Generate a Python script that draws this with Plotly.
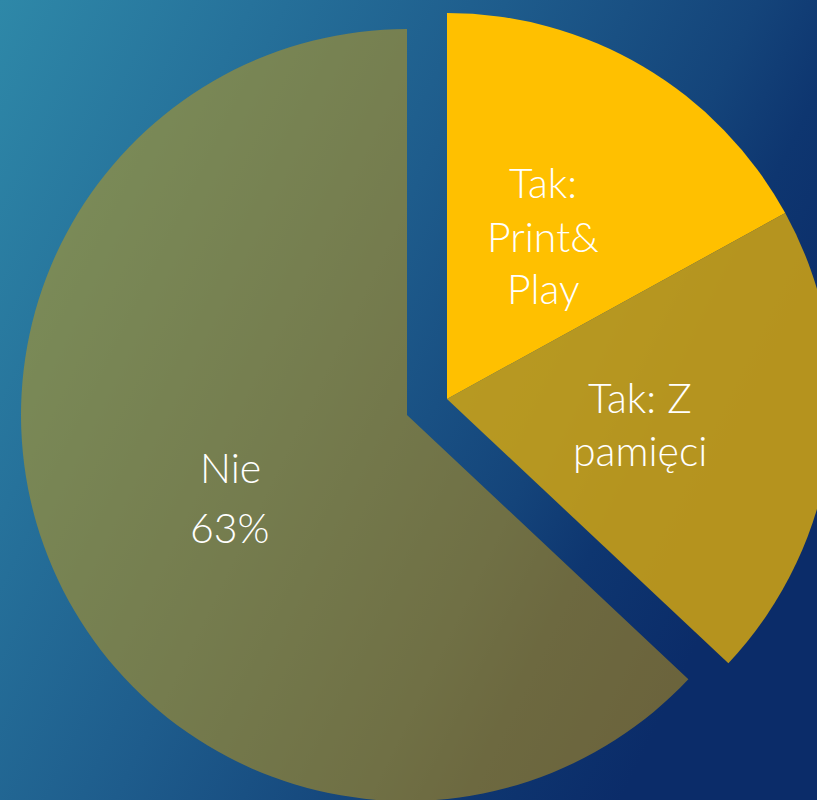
import base64
import plotly.graph_objects as go

# ---- data ----
labels = ["Tak: Print& Play", "Tak: Z pamięci", "Nie"]
values = [17, 20, 63]
label_lines = [["Tak:", "Print&", "Play"],
               ["Tak: Z", "pamięci"],
               ["Nie", f"{values[2] / sum(values):.0%}"]]

# ---- layout constants (pixels) ----
W, H = 840, 810
R = 386
NIE_C = (407, 415)     # centre of the exploded "Nie" slice
TAK_C = (447, 399)     # centre of the "Tak" slices
TEXT_X = [543, 640, 230]
TEXT_Y0 = [183, 397, 468]
TEXT_DY = [53, 53, 59]

def dom(c):
    cx, cy = c
    return dict(x=[(cx - R) / W, (cx + R) / W],
                y=[1 - (cy + R) / H, 1 - (cy - R) / H])

clear = "rgba(0,0,0,0)"
nie_colors = [clear, clear, "rgba(204,156,16,0.5)"]
tak_colors = ["#FFC000", "rgba(218,170,14,0.82)", clear]

fig = go.Figure()
fig.add_trace(go.Pie(labels=labels, values=values, sort=False, direction="clockwise",
                     rotation=0, domain=dom(NIE_C), textinfo="none", hoverinfo="skip",
                     marker=dict(colors=nie_colors, line=dict(width=0)), showlegend=False))
fig.add_trace(go.Pie(labels=labels, values=values, sort=False, direction="clockwise",
                     rotation=0, domain=dom(TAK_C), textinfo="none", hoverinfo="skip",
                     marker=dict(colors=tak_colors, line=dict(width=0)), showlegend=False))

svg = f"""<svg xmlns='http://www.w3.org/2000/svg' width='{W}' height='{H}' viewBox='0 0 {W} {H}' preserveAspectRatio='none'>
<defs><linearGradient id='g' gradientUnits='userSpaceOnUse' x1='0' y1='0' x2='817' y2='400'>
<stop offset='0' stop-color='rgb(46,136,168)'/>
<stop offset='0.25' stop-color='rgb(38,114,155)'/>
<stop offset='0.5' stop-color='rgb(30,92,140)'/>
<stop offset='0.75' stop-color='rgb(20,68,122)'/>
<stop offset='0.85' stop-color='rgb(14,54,112)'/>
<stop offset='1' stop-color='rgb(11,44,105)'/>
</linearGradient></defs>
<rect x='0' y='0' width='{W}' height='{H}' fill='url(#g)'/></svg>"""
src = "data:image/svg+xml;base64," + base64.b64encode(svg.encode()).decode()

annotations = []
for lines, px, py0, dy in zip(label_lines, TEXT_X, TEXT_Y0, TEXT_DY):
    for k, line in enumerate(lines):
        py = py0 + k * dy
        annotations.append(dict(text=line, x=px / W, y=1 - py / H, xref="paper", yref="paper",
                                xanchor="center", yanchor="middle", showarrow=False,
                                font=dict(family="Lato, 'Noto Sans', sans-serif", size=41,
                                          weight=300, color="white")))

fig.update_layout(
    width=W, height=H, margin=dict(l=0, r=0, t=0, b=0),
    paper_bgcolor="rgb(30,92,140)", plot_bgcolor="rgba(0,0,0,0)",
    images=[dict(source=src, xref="paper", yref="paper", x=0, y=1, sizex=1, sizey=1,
                 xanchor="left", yanchor="top", sizing="stretch", layer="below")],
    annotations=annotations,
)

fig.write_html("out.html", config={"displayModeBar": False},
               post_script="document.body.style.margin='0';document.body.style.overflow='hidden';")
